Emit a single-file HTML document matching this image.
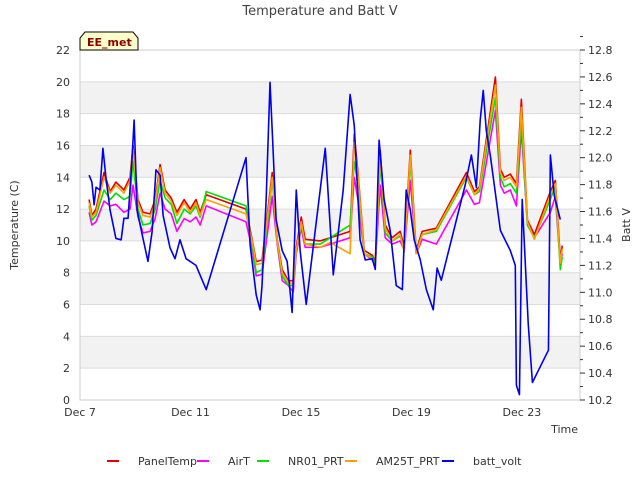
<!DOCTYPE html>
<html><head><meta charset="utf-8"><style>
body{margin:0;background:#fff;font-family:"Liberation Sans","DejaVu Sans",sans-serif}
</style></head><body>
<svg id="c" width="640" height="480" xmlns="http://www.w3.org/2000/svg" font-family="DejaVu Sans, Liberation Sans, sans-serif"></svg>
<script>
const tDays=[0.33,0.43,0.58,0.87,1.09,1.30,1.59,1.81,1.92,2.10,2.28,2.54,2.72,2.90,3.08,3.30,3.51,3.77,3.99,4.20,4.35,4.57,6.01,6.23,6.38,6.59,6.96,7.14,7.32,7.54,7.72,7.83,8.01,8.15,8.70,9.06,9.78,9.93,10.07,10.29,10.58,10.69,10.87,11.05,11.30,11.59,11.74,11.96,12.17,12.39,12.90,13.99,14.28,14.46,15.04,15.22,15.36,15.58,15.80,15.98,16.20,16.45,17.03,17.21,17.39,17.46];
const panelTemp=[12.6,11.6,12.0,14.3,13.1,13.7,13.2,14.0,16.0,12.6,11.8,11.7,12.6,14.8,13.2,12.7,11.8,12.6,12.0,12.6,11.8,12.9,12.0,10.1,8.7,8.8,14.3,10.1,8.2,7.5,7.5,9.6,11.5,10.1,10.0,10.2,10.6,16.7,14.2,9.4,9.1,8.7,15.7,11.0,10.2,10.6,9.6,15.7,9.4,10.6,10.8,14.3,13.1,13.4,20.3,14.5,14.0,14.2,13.6,18.9,11.3,10.4,13.1,13.8,8.9,9.7];
const airT=[11.8,11.0,11.2,12.5,12.2,12.3,11.8,12.0,13.5,11.5,10.5,10.6,11.4,13.0,12.0,11.7,10.6,11.4,11.2,11.5,11.0,12.2,11.2,9.5,7.8,7.9,12.8,9.8,7.5,7.2,6.8,9.2,10.8,9.6,9.6,9.8,10.2,14.0,12.5,9.2,8.8,8.5,13.5,10.2,9.8,10.0,9.4,13.8,9.2,10.1,9.8,13.2,12.3,12.4,18.2,13.5,13.0,13.2,12.2,17.0,11.0,10.2,11.8,12.8,8.5,9.2];
const nr01=[12.2,11.3,11.6,13.2,12.6,13.0,12.6,12.8,15.0,12.0,11.0,11.1,12.0,13.8,12.7,12.3,11.1,12.0,11.7,12.2,11.5,13.1,12.2,9.8,8.0,8.2,13.8,10.0,7.8,7.2,7.2,9.4,11.0,9.8,9.8,10.2,11.0,15.0,13.5,9.2,9.0,8.5,15.0,10.5,10.0,10.3,9.5,15.0,9.3,10.4,10.6,14.0,12.9,13.1,19.0,14.0,13.4,13.6,13.0,17.5,11.0,10.2,12.6,13.5,8.2,9.0];
const am25t=[12.4,11.5,11.8,14.0,13.0,13.5,13.0,13.8,15.8,12.4,11.6,11.5,12.4,14.6,13.0,12.5,11.6,12.4,11.8,12.4,11.6,12.6,11.7,10.0,8.5,8.6,14.0,10.0,8.0,7.4,7.3,9.4,11.2,9.8,9.6,9.9,9.2,16.2,14.0,9.2,8.9,8.3,15.4,10.8,10.0,10.4,9.3,15.4,9.2,10.4,10.7,14.1,12.9,13.3,19.8,14.3,13.8,14.0,13.4,18.4,11.2,10.1,12.9,13.6,8.6,9.5];
const bDays=[0.33,0.43,0.51,0.58,0.72,0.83,0.94,1.09,1.30,1.49,1.59,1.74,1.88,1.96,2.07,2.25,2.46,2.61,2.75,2.90,3.01,3.26,3.44,3.62,3.84,4.20,4.57,6.01,6.16,6.38,6.52,6.59,6.74,6.88,6.99,7.10,7.32,7.50,7.68,7.83,7.97,8.19,8.88,9.17,9.53,9.78,9.93,10.14,10.33,10.58,10.69,10.83,11.01,11.23,11.45,11.67,11.81,11.96,12.10,12.32,12.54,12.79,12.93,13.08,13.95,14.17,14.35,14.49,14.60,14.71,14.86,15.22,15.58,15.76,15.80,15.91,16.01,16.23,16.38,16.96,17.03,17.17,17.39];
const battV=[11.87,11.82,11.65,11.78,11.76,12.07,11.85,11.61,11.40,11.39,11.55,11.55,11.98,12.28,11.61,11.43,11.23,11.45,11.91,11.87,11.57,11.33,11.25,11.39,11.25,11.20,11.02,12.0,11.35,10.98,10.87,11.05,11.69,12.56,12.06,11.54,11.31,11.23,10.85,11.76,11.31,10.91,12.07,11.13,11.76,12.47,12.24,11.39,11.24,11.25,11.17,12.13,11.69,11.46,11.05,11.02,11.76,11.61,11.39,11.24,11.02,10.87,11.18,11.09,11.80,12.02,11.78,12.28,12.50,12.20,12.01,11.46,11.31,11.20,10.31,10.24,11.69,10.76,10.33,10.57,12.02,11.72,11.54];
const xTickLabels=["Dec 7","Dec 11","Dec 15","Dec 19","Dec 23"];
const xTickDays=[0,4,8,12,16];
const yTicks=[0,2,4,6,8,10,12,14,16,18,20,22];
const y2Ticks=[10.2,10.4,10.6,10.8,11.0,11.2,11.4,11.6,11.8,12.0,12.2,12.4,12.6,12.8];

const L=80,R=580,T=50,B=400,NS="http://www.w3.org/2000/svg";
const X=d=>L+d*27.62, Y=v=>B-v/22*(B-T), Y2=v=>B-(v-10.2)/2.6*(B-T);
const svg=document.getElementById('c');
function el(t,a,p){const e=document.createElementNS(NS,t);for(const k in a)e.setAttribute(k,a[k]);(p||svg).appendChild(e);return e;}
function txt(s,a,name){const e=el('text',a);e.textContent=s;return e;}
// bands
for(let v=2;v<22;v+=4){const r=el('rect',{x:L,y:Y(v+2),width:R-L,height:Y(v)-Y(v+2),fill:'#f2f2f2'});

}
yTicks.forEach(v=>{const g=el('line',{x1:L,x2:R,y1:Y(v),y2:Y(v),stroke:'#dcdcdc','stroke-width':1});


txt(String(v),{x:L-10,y:Y(v)+4,'text-anchor':'end','font-size':11,fill:'#333'},'y-tick-label');});
el('rect',{x:L,y:T,width:R-L,height:B-T,fill:'none',stroke:'#ccc'});
y2Ticks.forEach(v=>{el('line',{x1:R,x2:R+5,y1:Y2(v),y2:Y2(v),stroke:'#333'});
el('line',{x1:R,x2:R+3,y1:Y2(v+0.1),y2:Y2(v+0.1),stroke:'#333'});
txt(v.toFixed(1),{x:R+8,y:Y2(v)+4,'font-size':11,fill:'#333'},'y2-tick-label');});
xTickDays.forEach((d,i)=>txt(xTickLabels[i],{x:X(d),y:B+16,'text-anchor':'middle','font-size':11,fill:'#333'},'x-tick-label'));
txt('Temperature and Batt V',{x:320,y:15,'text-anchor':'middle','font-size':13,fill:'#444'},'chart-title');
txt('Time',{x:578,y:433,'text-anchor':'end','font-size':11,fill:'#333'},'x-axis-title');
txt('Temperature (C)',{x:18,y:225,'text-anchor':'middle','font-size':11,fill:'#333',transform:'rotate(-90 18 225)'},'y-axis-title');
txt('Batt V',{x:630,y:225,'text-anchor':'middle','font-size':11,fill:'#333',transform:'rotate(-90 630 225)'},'y2-axis-title');
function line(days,vals,yf,color,name){const p=el('polyline',{points:days.map((d,i)=>X(d)+','+yf(vals[i])).join(' '),fill:'none',stroke:color,'stroke-width':1.6,'stroke-linejoin':'round'});

}
line(tDays,panelTemp,Y,'#e00000','panel-temp-line');
line(tDays,airT,Y,'#ff00ff','airt-line');
line(tDays,nr01,Y,'#00e000','nr01-prt-line');
line(tDays,am25t,Y,'#ffa000','am25t-prt-line');
line(bDays,battV,Y2,'#0000ee','batt-volt-line');
// badge
const bg=el('path',{d:'M80,50 L80,38 L85,32 L133,32 L138,38 L138,50 Z',fill:'#ffffcc',stroke:'#000'});


txt('EE_met',{x:87,y:46,'font-size':11,'font-weight':'bold',fill:'#8b0000'},'site-badge-label');
// legend
const leg=[['PanelTemp','#e00000',122],['AirT','#ff00ff',212],['NR01_PRT','#00e000',272],['AM25T_PRT','#ffa000',360],['batt_volt','#0000ee',457]];
leg.forEach(([n,c,x])=>{const l=el('line',{x1:x-15,x2:x-3,y1:461,y2:461,stroke:c,'stroke-width':2});


txt(n,{x:x+16,y:465,'font-size':11,fill:'#333'},'legend-entry');});
</script>
</body></html>
